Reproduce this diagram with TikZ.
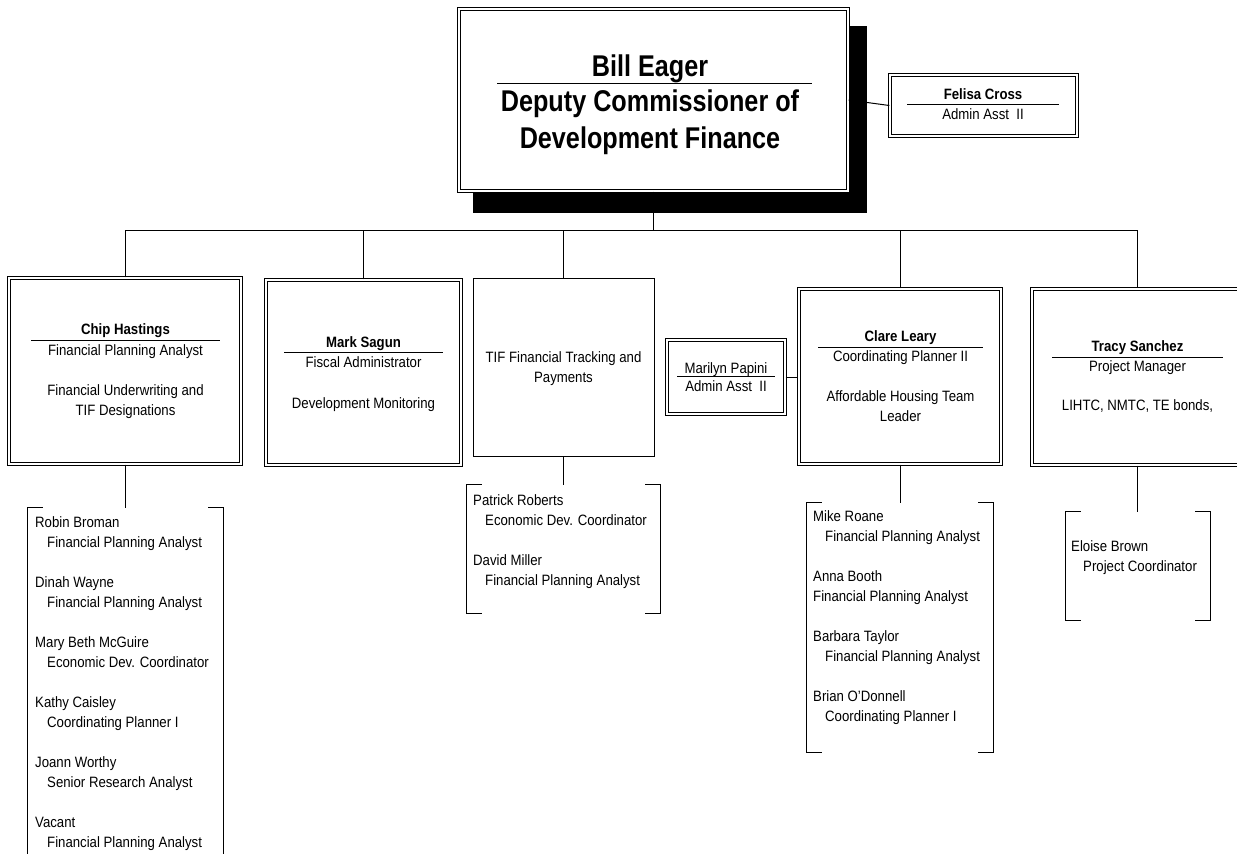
\documentclass[tikz,border=0pt]{standalone}
\usepackage{fontspec}
\setmainfont{Liberation Sans}[FakeStretch=0.88]
\newfontfamily\ttlfont{Liberation Sans}[FakeStretch=0.84]
\begin{document}
\begin{tikzpicture}[x=1pt,y=-1pt,
  dbox/.style={draw, double, double distance=1.8pt, line width=0.9pt, inner sep=0pt},
  sbox/.style={draw, line width=1pt, inner sep=0pt},
  shadowbox/.style={fill=black, draw=none, inner sep=0pt},
  listarea/.style={draw=none, inner sep=0pt},
  txt/.style={inner sep=0pt, anchor=base, font=\fontsize{15}{18}\selectfont},
  nm/.style={inner sep=0pt, anchor=base, font=\fontsize{15}{18}\selectfont\bfseries},
  ttl/.style={inner sep=0pt, anchor=base, font=\fontsize{30}{36}\selectfont\ttlfont\bfseries},
  ltxt/.style={inner sep=0pt, anchor=base west, font=\fontsize{15}{18}\selectfont},
  rule/.style={line width=1pt},
  conn/.style={line width=1pt},
  bracket/.style={line width=1pt}
]
\useasboundingbox (0,0) rectangle (1237,854);
\clip (0,0) rectangle (1237,854);

% ---------- top box ----------
\node[shadowbox, minimum width=394pt, minimum height=187pt] (topshadow) at (670,119.5) {};
\node[dbox, fill=white, minimum width=389.4pt, minimum height=182.4pt] (top) at (653.5,100) {};
\node[ttl] (billname) at (650,76) {Bill Eager};
\draw[rule] (497,83) -- (812,83);
\node[ttl] (billt1) at (650,111) {Deputy Commissioner of};
\node[ttl] (billt2) at (650,148) {Development Finance};

% ---------- Felisa ----------
\node[dbox, minimum width=187.4pt, minimum height=61.4pt] (felisa) at (983.5,105.5) {};
\node[nm] (felisaname) at (983,99.3) {Felisa Cross};
\draw[rule] (907,104.3) -- (1059,104.3);
\node[txt] (felisat) at (983,119) {Admin Asst~ II};
\draw[conn] (top.east) -- (felisa.west);

% ---------- second level boxes ----------
\node[dbox, minimum width=232.4pt, minimum height=186.4pt] (chip) at (125,371) {};
\node[nm] (chipname) at (125.5,334) {Chip Hastings};
\draw[rule] (31,340) -- (220,340);
\node[txt] (chipt) at (125.5,355) {Financial Planning Analyst};
\node[txt] (chipd1) at (125.5,395) {Financial Underwriting and};
\node[txt] (chipd2) at (125.5,415) {TIF Designations};

\node[dbox, minimum width=195.4pt, minimum height=185.4pt] (mark) at (363.5,372.5) {};
\node[nm] (markname) at (363.5,347.7) {Mark Sagun};
\draw[rule] (284,352.3) -- (443,352.3);
\node[txt] (markt) at (363.5,367) {Fiscal Administrator};
\node[txt] (markd) at (363.5,408) {Development Monitoring};

\node[sbox, minimum width=181pt, minimum height=178pt] (tif) at (563.5,367) {};
\node[txt] (tifd1) at (563.5,362) {TIF Financial Tracking and};
\node[txt] (tifd2) at (563.5,382) {Payments};

\node[dbox, minimum width=118.4pt, minimum height=74.4pt] (marilyn) at (726,377) {};
\node[txt] (marilynname) at (726,373.3) {Marilyn Papini};
\draw[rule] (677,376.7) -- (775,376.7);
\node[txt] (marilynt) at (726,391.7) {Admin Asst~ II};

\node[dbox, minimum width=202.4pt, minimum height=175.4pt] (clare) at (900,376.5) {};
\node[nm] (clarename) at (900.5,341.7) {Clare Leary};
\draw[rule] (818,347.3) -- (983,347.3);
\node[txt] (claret) at (900.5,361.7) {Coordinating Planner II};
\node[txt] (clared1) at (900.5,401.7) {Affordable Housing Team};
\node[txt] (clared2) at (900.5,421.7) {Leader};
\draw[conn] (marilyn.east) -- (marilyn.east -| clare.west);

\node[dbox, minimum width=210.4pt, minimum height=176.4pt] (tracy) at (1137,377) {};
\node[nm] (tracyname) at (1137.5,351.7) {Tracy Sanchez};
\draw[rule] (1052,357) -- (1223,357);
\node[txt] (tracyt) at (1137.5,371.7) {Project Manager};
\node[txt] (tracyd) at (1137.5,410) {LIHTC, NMTC, TE bonds,};

% ---------- bus ----------
\coordinate (bus) at (653.5,230.5);
\draw[conn] (top.south) -- (bus);
\draw[conn] (chip.north) |- (bus) -| (tracy.north);
\draw[conn] (mark.north) -- (mark.north |- bus);
\draw[conn] (tif.north) -- (tif.north |- bus);
\draw[conn] (clare.north) -- (clare.north |- bus);

% ---------- lists ----------
\node[listarea, minimum width=195pt, minimum height=362pt] (chipL) at (125.5,689) {};
\node[listarea, minimum width=193pt, minimum height=128pt] (tifL) at (563.5,549) {};
\node[listarea, minimum width=186pt, minimum height=249pt] (clareL) at (900,627.5) {};
\node[listarea, minimum width=144pt, minimum height=108pt] (tracyL) at (1138,566) {};

\foreach \L in {chipL,tifL,clareL,tracyL}{
  \draw[bracket] ([xshift=15pt]\L.north west) -- (\L.north west) -- (\L.south west) -- ++(15,0);
  \draw[bracket] ([xshift=-15pt]\L.north east) -- (\L.north east) -- (\L.south east) -- ++(-15,0);
}

\draw[conn] (chip.south) -- (chip.south |- chipL.north);
\draw[conn] (tif.south) -- (tif.south |- tifL.north);
\draw[conn] (clare.south) -- (clare.south |- clareL.north);
\draw[conn] (tracy.south) -- (tracy.south |- tracyL.north);

% Chip list
\node[ltxt] (p1) at (35,527) {Robin Broman};
\node[ltxt] (p1t) at (47,547) {Financial Planning Analyst};
\node[ltxt] (p2) at (35,587) {Dinah Wayne};
\node[ltxt] (p2t) at (47,607) {Financial Planning Analyst};
\node[ltxt] (p3) at (35,647) {Mary Beth McGuire};
\node[ltxt] (p3t) at (47,667) {Economic Dev. Coordinator};
\node[ltxt] (p4) at (35,707) {Kathy Caisley};
\node[ltxt] (p4t) at (47,727) {Coordinating Planner I};
\node[ltxt] (p5) at (35,767) {Joann Worthy};
\node[ltxt] (p5t) at (47,787) {Senior Research Analyst};
\node[ltxt] (p6) at (35,827) {Vacant};
\node[ltxt] (p6t) at (47,847) {Financial Planning Analyst};

% TIF list
\node[ltxt] (q1) at (473,505) {Patrick Roberts};
\node[ltxt] (q1t) at (485,525) {Economic Dev. Coordinator};
\node[ltxt] (q2) at (473,565) {David Miller};
\node[ltxt] (q2t) at (485,585) {Financial Planning Analyst};

% Clare list
\node[ltxt] (r1) at (813,521.7) {Mike Roane};
\node[ltxt] (r1t) at (825,541.7) {Financial Planning Analyst};
\node[ltxt] (r2) at (813,581.7) {Anna Booth};
\node[ltxt] (r2t) at (813,601.7) {Financial Planning Analyst};
\node[ltxt] (r3) at (813,641.7) {Barbara Taylor};
\node[ltxt] (r3t) at (825,661.7) {Financial Planning Analyst};
\node[ltxt] (r4) at (813,701.7) {Brian O’Donnell};
\node[ltxt] (r4t) at (825,721.7) {Coordinating Planner I};

% Tracy list
\node[ltxt] (s1) at (1071,551.7) {Eloise Brown};
\node[ltxt] (s1t) at (1083,571.7) {Project Coordinator};
\end{tikzpicture}
\end{document}
